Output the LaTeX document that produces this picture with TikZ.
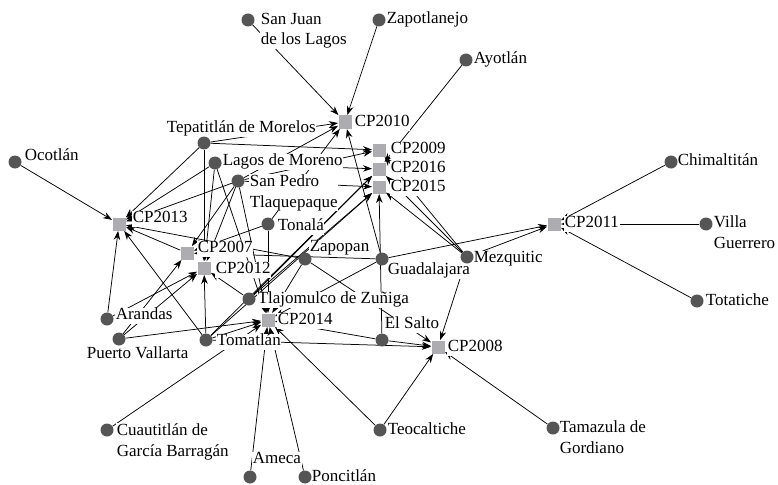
\documentclass[tikz,border=0pt]{standalone}
\usepackage{fontspec}
\setmainfont{Liberation Serif}
\usetikzlibrary{arrows.meta}
\definecolor{muniGray}{HTML}{555555}
\definecolor{cpGray}{HTML}{ADADB1}
\newcommand\labfont{\fontsize{17}{20.5}\selectfont}
\pgfdeclarelayer{edgelayer}
\pgfdeclarelayer{labellayer}
\pgfsetlayers{edgelayer,labellayer,main}
\begin{document}
\begin{tikzpicture}[x=1pt,y=-1pt,
  muni/.style={circle,fill=muniGray,inner sep=0pt,minimum size=13pt},
  cp/.style={rectangle,fill=cpGray,inner sep=0pt,minimum size=13pt},
  lab/.style={fill=white,inner sep=0.6pt,anchor=west,font=\labfont,text height=11pt,text depth=3.5pt},
  labtwo/.style={fill=white,inner sep=0.6pt,anchor=north west,align=left,font=\labfont},
  link/.style={-{Stealth[length=9pt,width=6.5pt]},line width=0.75pt,shorten >=0.3pt}
]
\useasboundingbox (0,0) rectangle (778,484);

% municipalities
\node[muni] (sj)  at (248,20)  {};
\node[muni] (zt)  at (379,20)  {};
\node[muni] (ay)  at (466,60)  {};
\node[muni] (oc)  at (15,162)  {};
\node[muni] (tep) at (204,143) {};
\node[muni] (lag) at (215,163) {};
\node[muni] (spt) at (238,181) {};
\node[muni] (ton) at (268,224) {};
\node[muni] (zpn) at (305,259) {};
\node[muni] (gdl) at (382,259) {};
\node[muni] (mez) at (467,257) {};
\node[muni] (tla) at (249,299) {};
\node[muni] (ara) at (107,319) {};
\node[muni] (pv)  at (119,339) {};
\node[muni] (tom) at (206,340) {};
\node[muni] (els) at (382,340) {};
\node[muni] (teo) at (380,430) {};
\node[muni] (tam) at (553,428) {};
\node[muni] (cua) at (107,430) {};
\node[muni] (ame) at (250,477) {};
\node[muni] (pon) at (305,477) {};
\node[muni] (chi) at (671,162) {};
\node[muni] (vg)  at (706,224) {};
\node[muni] (tot) at (697,301) {};

% CP nodes
\node[cp] (c10) at (345,122) {};
\node[cp] (c09) at (379,150) {};
\node[cp] (c16) at (379,169) {};
\node[cp] (c15) at (379,187) {};
\node[cp] (c13) at (119,224) {};
\node[cp] (c07) at (187,253) {};
\node[cp] (c12) at (204,268) {};
\node[cp] (c14) at (268,320) {};
\node[cp] (c08) at (438,347) {};
\node[cp] (c11) at (554,224) {};

% links
\begin{pgfonlayer}{edgelayer}
\foreach \a/\b in {
  sj/c10, zt/c10, tep/c10, spt/c10, ton/c10, gdl/c10,
  tep/c09, spt/c09, mez/c09,
  ay/c16, lag/c16, mez/c16, tom/c16, tla/c16,
  spt/c15, mez/c15, tom/c15, tla/c15, els/c15,
  oc/c13, tep/c13, lag/c13, spt/c13, ara/c13, tom/c13, zpn/c13, c07/c13,
  spt/c07, ton/c07, pv/c07, gdl/c07,
  tep/c12, lag/c12, spt/c12, ara/c12, pv/c12, tom/c12, tla/c12,
  ton/c14, lag/c14, spt/c14, zpn/c14, gdl/c14, els/c14, pv/c14, tom/c14,
  cua/c14, ame/c14, pon/c14, teo/c14,
  tom/c08, els/c08, mez/c08, zpn/c08, teo/c08, tam/c08,
  gdl/c11, mez/c11, chi/c11, vg/c11, tot/c11}
  \draw[link] (\a) -- (\b);
\end{pgfonlayer}

% labels
\begin{pgfonlayer}{labellayer}
\node[labtwo] (sjL)  at (260,12)  {San Juan\\de los Lagos};
\node[lab]    (ztL)  at (386,20)  {Zapotlanejo};
\node[lab]    (ayL)  at (473,60)  {Ayotlán};
\node[lab]    (ocL)  at (24,157)  {Ocotlán};
\node[lab]    (tepL) at (166,129) {Tepatitlán de Morelos};
\node[lab]    (lagL) at (222,162) {Lagos de Moreno};
\node[labtwo] (sptL) at (249,174) {San Pedro\\Tlaquepaque};
\node[lab]    (tonL) at (277,227) {Tonalá};
\node[lab]    (zpnL) at (309,248) {Zapopan};
\node[lab]    (gdlL) at (387,271) {Guadalajara};
\node[lab]    (mezL) at (473,259) {Mezquitic};
\node[lab]    (tlaL) at (257,300) {Tlajomulco de Zuñiga};
\node[lab]    (araL) at (115,316) {Arandas};
\node[lab]    (pvL)  at (86,355)  {Puerto Vallarta};
\node[lab]    (tomL) at (216,342) {Tomatlán};
\node[lab]    (elsL) at (384,325) {El Salto};
\node[lab]    (teoL) at (387,431) {Teocaltiche};
\node[labtwo] (tamL) at (559,420) {Tamazula de\\Gordiano};
\node[labtwo] (cuaL) at (116,423) {Cuautitlán de\\García Barragán};
\node[lab]    (ameL) at (252,460) {Ameca};
\node[lab]    (ponL) at (311,478) {Poncitlán};
\node[lab]    (chiL) at (677,162) {Chimaltitán};
\node[labtwo] (vgL)  at (713,215) {Villa\\Guerrero};
\node[lab]    (totL) at (705,302) {Totatiche};

\node[lab] (c10L) at (354,123) {CP2010};
\node[lab] (c09L) at (390,150) {CP2009};
\node[lab] (c16L) at (390,169) {CP2016};
\node[lab] (c15L) at (390,188) {CP2015};
\node[lab] (c13L) at (132,219) {CP2013};
\node[lab] (c07L) at (197,249) {CP2007};
\node[lab] (c12L) at (215,270) {CP2012};
\node[lab] (c14L) at (277,321) {CP2014};
\node[lab] (c08L) at (447,348) {CP2008};
\node[lab] (c11L) at (564,224) {CP2011};
\end{pgfonlayer}
\end{tikzpicture}
\end{document}
